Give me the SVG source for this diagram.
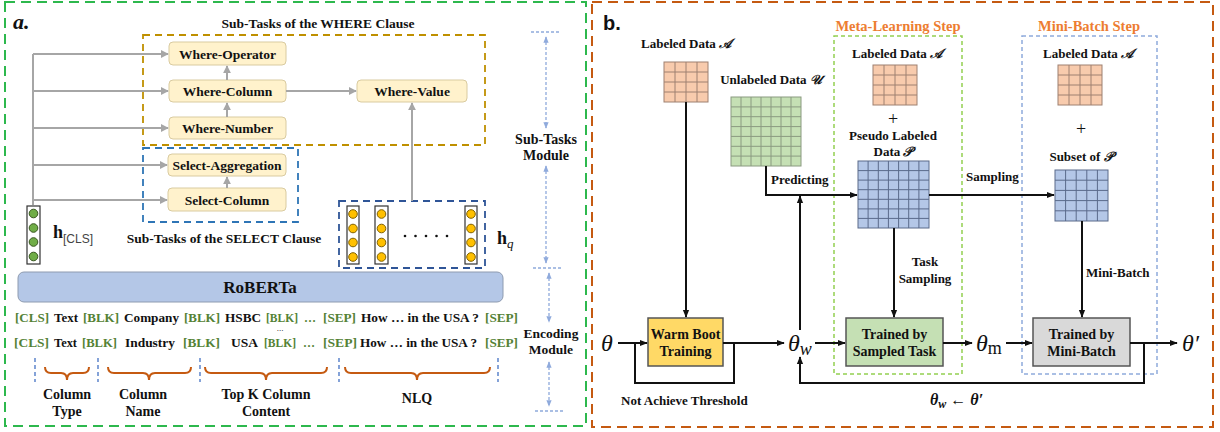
<svg xmlns="http://www.w3.org/2000/svg" width="1220" height="432" viewBox="0 0 1220 432">
<style>
.t{font-family:"Liberation Serif","Times New Roman",serif;font-weight:bold;fill:#111}
.s13{font-size:13.5px}
.tk{font-family:"Liberation Serif","Times New Roman",serif;font-weight:bold;font-size:13.5px;fill:#111}
.box{fill:#FFF2CC;stroke:#D9CBA0;stroke-width:1}
.g{fill:#548235}
.gray{fill:none;stroke:#A6A6A6;stroke-width:2}
.blk{fill:none;stroke:#111;stroke-width:2}
.mod{fill:none;stroke:#8FAADC;stroke-width:1.3;stroke-dasharray:3 2}
.brace{fill:none;stroke:#C55A11;stroke-width:2}
.sep{stroke:#4472C4;stroke-width:1.3;stroke-dasharray:4 3}
.gc{fill:#70AD47;stroke:#38561F;stroke-width:1}
.yc{fill:#FFC000;stroke:#7F6000;stroke-width:1}
.vec{fill:#fff;stroke:#333;stroke-width:1.2}
.math{font-family:"Liberation Serif","DejaVu Serif",serif;font-style:italic;fill:#111}
.og{fill:#F8CBAD;stroke:#9E8070;stroke-width:1}
.grn{fill:#C5E0B4;stroke:#8A9A80;stroke-width:1}
.bg{fill:#B4C7E7;stroke:#5A6A8A;stroke-width:1}
.orange{fill:#ED7D31}
</style>
<defs>
<marker id="ag" viewBox="0 0 10 10" refX="9" refY="5" markerWidth="4" markerHeight="4" orient="auto-start-reverse"><path d="M0 0L10 5L0 10z" fill="#A6A6A6"/></marker>
<marker id="ab" viewBox="0 0 10 10" refX="9" refY="5" markerWidth="4" markerHeight="4" orient="auto-start-reverse"><path d="M0 1L10 5L0 9z" fill="#111"/></marker>
<marker id="am" viewBox="0 0 10 10" refX="9" refY="5" markerWidth="5" markerHeight="5" orient="auto-start-reverse"><path d="M0 1L10 5L0 9z" fill="#8FAADC"/></marker>
</defs>
<rect width="1220" height="432" fill="#fff"/>

<g id="panel-a">
<rect x="5" y="2" width="581" height="424" fill="none" stroke="#2DB84D" stroke-width="2" stroke-dasharray="10 6"/>
<text x="13" y="29" font-family="Liberation Serif,serif" font-style="italic" font-weight="bold" font-size="22" fill="#111">a.</text>
</g>
<g id="panel-b">
<rect x="592" y="2" width="621" height="425" fill="none" stroke="#C55A11" stroke-width="2" stroke-dasharray="10 6"/>
<text x="603" y="30" font-family="Liberation Sans,Arial,sans-serif" font-weight="bold" font-size="20" fill="#111">b.</text>
</g>

<g id="where-group">
<rect x="143" y="35" width="342" height="110" fill="none" stroke="#BF9000" stroke-width="1.8" stroke-dasharray="7 5"/>
<text class="t s13" x="318" y="28" text-anchor="middle">Sub-Tasks of the WHERE Clause</text>
</g>
<g id="where-operator"><rect class="box" x="169" y="42" width="117" height="23" rx="4"/><text class="t s13" x="227.5" y="58.5" text-anchor="middle">Where-Operator</text></g>
<g id="where-column"><rect class="box" x="169" y="80" width="117" height="22" rx="4"/><text class="t s13" x="227.5" y="96" text-anchor="middle">Where-Column</text></g>
<g id="where-number"><rect class="box" x="169" y="117" width="117" height="22" rx="4"/><text class="t s13" x="227.5" y="133" text-anchor="middle">Where-Number</text></g>
<g id="where-value"><rect class="box" x="357" y="80" width="110" height="22" rx="4"/><text class="t s13" x="412" y="96" text-anchor="middle">Where-Value</text></g>

<g id="select-group">
<rect x="143" y="148" width="155" height="74" fill="none" stroke="#2E75B6" stroke-width="1.8" stroke-dasharray="7 5"/>
<text class="t s13" x="224" y="243" text-anchor="middle">Sub-Tasks of the SELECT Clause</text>
</g>
<g id="select-aggregation"><rect class="box" x="168" y="154" width="118" height="22" rx="4"/><text class="t s13" x="227" y="170" text-anchor="middle">Select-Aggregation</text></g>
<g id="select-column"><rect class="box" x="168" y="188" width="118" height="23" rx="4"/><text class="t s13" x="227" y="204.5" text-anchor="middle">Select-Column</text></g>

<g id="h-cls">
<rect class="vec" x="27" y="206" width="13" height="58"/>
<circle class="gc" cx="33.5" cy="213.5" r="4.3"/>
<circle class="gc" cx="33.5" cy="228" r="4.3"/>
<circle class="gc" cx="33.5" cy="242" r="4.3"/>
<circle class="gc" cx="33.5" cy="256.5" r="4.3"/>
<text class="t" x="53" y="238" font-size="18">h<tspan font-family="Liberation Sans,Arial,sans-serif" font-weight="normal" font-size="12" fill="#444" dy="5">[CLS]</tspan></text>
</g>

<g id="h-q">
<rect x="339" y="201" width="146" height="67" fill="none" stroke="#2F5597" stroke-width="1.8" stroke-dasharray="7 5"/>
<rect class="vec" x="347" y="206" width="12" height="58"/>
<rect class="vec" x="375" y="206" width="13" height="58"/>
<rect class="vec" x="465" y="206" width="12" height="58"/>
<g>
<circle class="yc" cx="353" cy="214" r="4.3"/><circle class="yc" cx="353" cy="228.5" r="4.3"/><circle class="yc" cx="353" cy="242.5" r="4.3"/><circle class="yc" cx="353" cy="257" r="4.3"/>
<circle class="yc" cx="381.5" cy="214" r="4.3"/><circle class="yc" cx="381.5" cy="228.5" r="4.3"/><circle class="yc" cx="381.5" cy="242.5" r="4.3"/><circle class="yc" cx="381.5" cy="257" r="4.3"/>
<circle class="yc" cx="471" cy="214" r="4.3"/><circle class="yc" cx="471" cy="228.5" r="4.3"/><circle class="yc" cx="471" cy="242.5" r="4.3"/><circle class="yc" cx="471" cy="257" r="4.3"/>
</g>
<g fill="#111"><circle cx="405" cy="236" r="1.3"/><circle cx="415.5" cy="236" r="1.3"/><circle cx="426" cy="236" r="1.3"/><circle cx="436.5" cy="236" r="1.3"/><circle cx="447" cy="236" r="1.3"/></g>
<text class="t" x="497" y="244" font-size="18">h<tspan class="math" font-weight="normal" font-size="13" dy="4">q</tspan></text>
</g>

<g id="roberta">
<rect x="18" y="272" width="485" height="30" rx="6" fill="#B4C7E7" stroke="#8E9BB0" stroke-width="1"/>
<text class="t" x="260" y="293" font-size="17" text-anchor="middle">RoBERTa</text>
</g>

<g id="tokens" class="tk">
<text class="g" x="15" y="322" textLength="34" lengthAdjust="spacingAndGlyphs">[CLS]</text>
<text x="54" y="322" textLength="24" lengthAdjust="spacingAndGlyphs">Text</text>
<text class="g" x="83" y="322" textLength="36" lengthAdjust="spacingAndGlyphs">[BLK]</text>
<text x="124" y="322" textLength="55" lengthAdjust="spacingAndGlyphs">Company</text>
<text class="g" x="184" y="322" textLength="36" lengthAdjust="spacingAndGlyphs">[BLK]</text>
<text x="225" y="322" textLength="36" lengthAdjust="spacingAndGlyphs">HSBC</text>
<text class="g" x="266" y="322" textLength="32" lengthAdjust="spacingAndGlyphs">[BLK]</text>
<text class="g" x="304" y="322" textLength="12" lengthAdjust="spacingAndGlyphs">…</text>
<text class="g" x="323" y="322" textLength="33" lengthAdjust="spacingAndGlyphs">[SEP]</text>
<text x="361" y="322" textLength="118" lengthAdjust="spacingAndGlyphs">How … in the USA ?</text>
<text class="g" x="485" y="322" textLength="33" lengthAdjust="spacingAndGlyphs">[SEP]</text>
<text x="280" y="331" font-size="9" font-weight="normal" text-anchor="middle">...</text>
<text class="g" x="14" y="347" textLength="35" lengthAdjust="spacingAndGlyphs">[CLS]</text>
<text x="54" y="347" textLength="23" lengthAdjust="spacingAndGlyphs">Text</text>
<text class="g" x="82" y="347" textLength="35" lengthAdjust="spacingAndGlyphs">[BLK]</text>
<text x="125" y="347" textLength="50" lengthAdjust="spacingAndGlyphs">Industry</text>
<text class="g" x="183" y="347" textLength="37" lengthAdjust="spacingAndGlyphs">[BLK]</text>
<text x="231" y="347" textLength="27" lengthAdjust="spacingAndGlyphs">USA</text>
<text class="g" x="264" y="347" textLength="32" lengthAdjust="spacingAndGlyphs">[BLK]</text>
<text class="g" x="303" y="347" textLength="12" lengthAdjust="spacingAndGlyphs">…</text>
<text class="g" x="323" y="347" textLength="34" lengthAdjust="spacingAndGlyphs">[SEP]</text>
<text x="360" y="347" textLength="117" lengthAdjust="spacingAndGlyphs">How … in the USA ?</text>
<text class="g" x="485" y="347" textLength="33" lengthAdjust="spacingAndGlyphs">[SEP]</text>
</g>

<g id="segments">
<line class="sep" x1="35" y1="358" x2="35" y2="382"/>
<line class="sep" x1="98" y1="358" x2="98" y2="382"/>
<line class="sep" x1="200" y1="358" x2="200" y2="382"/>
<line class="sep" x1="339" y1="358" x2="339" y2="382"/>
<line class="sep" x1="498" y1="358" x2="498" y2="382"/>
<path class="brace" d="M45 367Q45 373 51 373H61Q67 373 67 380Q67 373 73 373H83Q89 373 89 367"/>
<path class="brace" d="M108 367Q108 373 114 373H143Q149 373 149 380Q149 373 155 373H185Q191 373 191 367"/>
<path class="brace" d="M205 367Q205 373 211 373H260Q266 373 266 380Q266 373 272 373H321Q327 373 327 367"/>
<path class="brace" d="M345 367Q345 373 351 373H411Q417 373 417 380Q417 373 423 373H484Q490 373 490 367"/>
<g class="t" font-size="14" text-anchor="middle">
<text x="67" y="399">Column</text><text x="67" y="416">Type</text>
<text x="143" y="399">Column</text><text x="143" y="416">Name</text>
<text x="266" y="399">Top K Column</text><text x="266" y="416">Content</text>
<text x="417" y="403">NLQ</text>
</g>
</g>

<g id="modules">
<line x1="531" y1="32" x2="559" y2="32" stroke="#8FAADC" stroke-width="1.3" stroke-dasharray="3 2"/>
<line class="mod" x1="546" y1="37" x2="546" y2="128" marker-start="url(#am)" marker-end="url(#am)"/>
<text class="t" font-size="14" x="546" y="144" text-anchor="middle">Sub-Tasks</text>
<text class="t" font-size="14" x="546" y="160" text-anchor="middle">Module</text>
<line class="mod" x1="546" y1="166" x2="546" y2="263" marker-start="url(#am)" marker-end="url(#am)"/>
<line x1="533" y1="268" x2="561" y2="268" stroke="#8FAADC" stroke-width="1.3" stroke-dasharray="3 2"/>
<line class="mod" x1="549" y1="273" x2="549" y2="322" marker-start="url(#am)" marker-end="url(#am)"/>
<text class="t" font-size="13.5" x="551" y="338" text-anchor="middle">Encoding</text>
<text class="t" font-size="13.5" x="551" y="354" text-anchor="middle">Module</text>
<line class="mod" x1="549" y1="362" x2="549" y2="406" marker-start="url(#am)" marker-end="url(#am)"/>
<line x1="535" y1="411" x2="563" y2="411" stroke="#8FAADC" stroke-width="1.3" stroke-dasharray="3 2"/>
</g>

<g id="connectors-a" class="gray">
<path d="M33 205V54"/>
<path d="M33 54H168" marker-end="url(#ag)"/>
<path d="M33 91H168" marker-end="url(#ag)"/>
<path d="M33 128H168" marker-end="url(#ag)"/>
<path d="M33 165H167" marker-end="url(#ag)"/>
<path d="M33 200H167" marker-end="url(#ag)"/>
<path d="M227 117V103" marker-end="url(#ag)"/>
<path d="M227 80V66" marker-end="url(#ag)"/>
<path d="M227 188V177" marker-end="url(#ag)"/>
<path d="M286 91H356" marker-end="url(#ag)"/>
<path d="M412 201V103" marker-end="url(#ag)"/>
</g>

<g id="meta-step">
<rect x="834" y="36" width="128" height="338" fill="none" stroke="#92D050" stroke-width="1.5" stroke-dasharray="4 3"/>
<text class="t orange" x="898" y="31" font-size="14.5" text-anchor="middle">Meta-Learning Step</text>
</g>
<g id="mini-step">
<rect x="1022" y="36" width="135" height="338" fill="none" stroke="#8FAADC" stroke-width="1.5" stroke-dasharray="4 3"/>
<text class="t orange" x="1089" y="31" font-size="14.5" text-anchor="middle">Mini-Batch Step</text>
</g>

<g id="labeled-data-1">
<text class="t" x="686" y="48" font-size="13" text-anchor="middle">Labeled Data <tspan class="math" font-family="DejaVu Serif,serif">𝒜</tspan></text>
<rect class="og" x="664" y="62" width="44" height="40"/>
<path d="M675 62V102M686 62V102M697 62V102M664 72H708M664 82H708M664 92H708" stroke="#9E8070" fill="none"/>
</g>
<g id="unlabeled-data">
<text class="t" x="771" y="84" font-size="13" text-anchor="middle">Unlabeled Data <tspan class="math" font-family="DejaVu Serif,serif">𝒰</tspan></text>
<rect class="grn" x="731" y="97" width="70" height="69"/>
<path d="M741 97V166M751 97V166M761 97V166M771 97V166M781 97V166M791 97V166M731 106.9H801M731 116.7H801M731 126.6H801M731 136.4H801M731 146.3H801M731 156.1H801" stroke="#8A9A80" fill="none"/>
</g>
<g id="labeled-data-2">
<text class="t" x="897" y="58" font-size="13" text-anchor="middle">Labeled Data <tspan class="math" font-family="DejaVu Serif,serif">𝒜</tspan></text>
<rect class="og" x="873" y="65" width="44" height="40"/>
<path d="M884 65V105M895 65V105M906 65V105M873 75H917M873 85H917M873 95H917" stroke="#9E8070" fill="none"/>
<text x="893" y="125" font-family="Liberation Serif,serif" font-size="18" text-anchor="middle" fill="#111">+</text>
</g>
<g id="pseudo-data">
<text class="t" x="893" y="140" font-size="13" text-anchor="middle">Pseudo Labeled</text>
<text class="t" x="893" y="156" font-size="13" text-anchor="middle">Data <tspan class="math" font-family="DejaVu Serif,serif">𝒫</tspan></text>
<rect class="bg" x="858" y="161" width="71" height="67"/>
<path d="M868.1 161V228M878.3 161V228M888.4 161V228M898.6 161V228M908.7 161V228M918.9 161V228M858 170.6H929M858 180.1H929M858 189.7H929M858 199.3H929M858 208.9H929M858 218.4H929" stroke="#5A6A8A" fill="none"/>
</g>
<g id="labeled-data-3">
<text class="t" x="1088" y="58" font-size="13" text-anchor="middle">Labeled Data <tspan class="math" font-family="DejaVu Serif,serif">𝒜</tspan></text>
<rect class="og" x="1058" y="65" width="44" height="40"/>
<path d="M1069 65V105M1080 65V105M1091 65V105M1058 75H1102M1058 85H1102M1058 95H1102" stroke="#9E8070" fill="none"/>
<text x="1081" y="135" font-family="Liberation Serif,serif" font-size="18" text-anchor="middle" fill="#111">+</text>
</g>
<g id="subset-data">
<text class="t" x="1081" y="161" font-size="13" text-anchor="middle">Subset of <tspan class="math" font-family="DejaVu Serif,serif">𝒫</tspan></text>
<rect class="bg" x="1055" y="170" width="53" height="51"/>
<path d="M1065.6 170V221M1076.2 170V221M1086.8 170V221M1097.4 170V221M1055 180.2H1108M1055 190.4H1108M1055 200.6H1108M1055 210.8H1108" stroke="#5A6A8A" fill="none"/>
</g>

<g id="warm-boot"><rect x="648" y="318" width="75" height="48" fill="#FFD966" stroke="#555" stroke-width="1.5"/><text class="t" x="685.5" y="339" font-size="14" text-anchor="middle">Warm Boot</text><text class="t" x="685.5" y="356" font-size="14" text-anchor="middle">Training</text></g>
<g id="trained-sampled"><rect x="846" y="318" width="97" height="48" fill="#C5E0B4" stroke="#555" stroke-width="1.5"/><text class="t" x="894.5" y="339" font-size="14" text-anchor="middle">Trained by</text><text class="t" x="894.5" y="356" font-size="14" text-anchor="middle">Sampled Task</text></g>
<g id="trained-minibatch"><rect x="1033" y="318" width="97" height="48" fill="#D9D9D9" stroke="#555" stroke-width="1.5"/><text class="t" x="1081.5" y="339" font-size="14" text-anchor="middle">Trained by</text><text class="t" x="1081.5" y="356" font-size="14" text-anchor="middle">Mini-Batch</text></g>

<g id="theta"><text class="math" x="601" y="351" font-size="24">θ</text></g>
<g id="theta-w"><text class="math" x="788" y="351" font-size="24">θ<tspan font-size="18" dy="4">w</tspan></text></g>
<g id="theta-m"><text class="math" x="976" y="351" font-size="24">θ<tspan font-style="normal" font-size="18" dy="3">m</tspan></text></g>
<g id="theta-prime"><text class="math" x="1182" y="351" font-size="24">θ′</text></g>

<g id="connectors-b" class="blk">
<path d="M686 102V317" marker-end="url(#ab)"/>
<path d="M766 166V195H857" marker-end="url(#ab)"/>
<path d="M800 330V196" marker-end="url(#ab)"/>
<path d="M929 195H1054" marker-end="url(#ab)"/>
<path d="M894 228V317" marker-end="url(#ab)"/>
<path d="M1082 221V317" marker-end="url(#ab)"/>
<path d="M618 343H647" marker-end="url(#ab)"/>
<path d="M635 343V383H734V343"/>
<path d="M723 343H784" marker-end="url(#ab)"/>
<path d="M815 343H845" marker-end="url(#ab)"/>
<path d="M943 343H972" marker-end="url(#ab)"/>
<path d="M1006 343H1032" marker-end="url(#ab)"/>
<path d="M1130 343H1177" marker-end="url(#ab)"/>
<path d="M1144 343V383H800V357" marker-end="url(#ab)"/>
</g>
<g id="labels-b" class="t" font-size="13">
<text x="771" y="184">Predicting</text>
<text x="966" y="181">Sampling</text>
<text x="925" y="266" text-anchor="middle">Task</text>
<text x="925" y="283" text-anchor="middle">Sampling</text>
<text x="1086" y="277">Mini-Batch</text>
<text x="621" y="405">Not  Achieve Threshold</text>
<text x="930" y="405" font-size="16" font-style="italic">θ<tspan font-size="12" dy="3">w</tspan><tspan dy="-3" font-style="normal"> ← </tspan>θ′</text>
</g>
</svg>
